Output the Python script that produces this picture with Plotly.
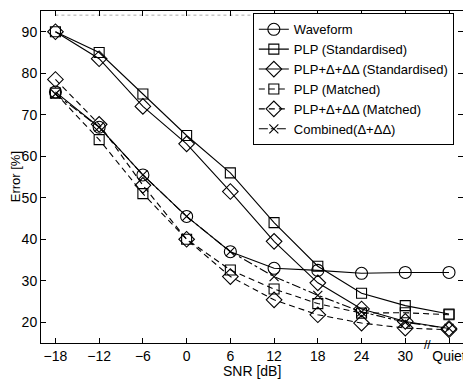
import plotly.graph_objects as go

snr = ["−18", "−12", "−6", "0", "6", "12", "18", "24", "30", "Quiet"]

waveform = [75.5, 67, 55.5, 45.5, 37, 33, 32.5, 31.8, 32, 32]
plp_std = [90, 85, 75, 65, 56, 44, 33.5, 27, 24, 22]
plpd_std = [90, 83.5, 72, 63, 51.5, 39.5, 29.5, 23.2, 20.2, 18.5]
plp_match = [75.2, 64, 51, 40, 32.6, 28, 24.5, 22.2, 22.3, 21.8]
plpd_match = [78.5, 67.7, 53, 40, 31, 25.4, 21.8, 19.8, 18.6, 18.2]
combined = [75, 67, 55.5, 45.5, 37, 31, 26.5, 22.5, 20, 18.5]
ceiling = [94] * len(snr)

# the page body has an 8px margin, so the figure is 8px smaller than the window
fig = go.Figure(layout=go.Layout(width=463, height=372))

fig.add_trace(go.Scatter(x=snr, y=ceiling, mode="lines", showlegend=False,
                         line=dict(color="#aaaaaa", width=1, dash="dot"), hoverinfo="skip"))


def serie(y, nome, simbolo, tracejado, tam):
    fig.add_trace(go.Scatter(
        x=snr, y=y, name=nome, mode="lines+markers",
        line=dict(color="black", width=1.1, dash=tracejado),
        marker=dict(symbol=simbolo, size=tam, color="black",
                    line=dict(color="black", width=1.1))))


serie(waveform, "Waveform", "circle-open", "solid", 12)
serie(plp_std, "PLP (Standardised)", "square-open", "solid", 10)
serie(plpd_std, "PLP+Δ+ΔΔ (Standardised)", "diamond-open", "solid", 12)
serie(plp_match, "PLP (Matched)", "square-open", "6px,4px", 10)
serie(plpd_match, "PLP+Δ+ΔΔ (Matched)", "diamond-open", "6px,4px", 12)
serie(combined, "Combined(Δ+ΔΔ)", "x-thin-open", "dashdot", 9)

eixo = dict(showline=True, linecolor="black", linewidth=1, mirror="ticks",
            ticks="inside", ticklen=5, tickcolor="black", showgrid=False,
            zeroline=False, automargin=False, tickfont=dict(size=14, color="black"))

fig.update_layout(
    plot_bgcolor="white", paper_bgcolor="white",
    font=dict(family="Liberation Sans, Arial, sans-serif", size=14, color="black"),
    margin=dict(l=33, r=8, t=3, b=37),
    xaxis=dict(eixo, type="category", categoryarray=snr, range=[-0.33, 9.32]),
    yaxis=dict(eixo, range=[15, 95], tickvals=[20, 30, 40, 50, 60, 70, 80, 90]),
    legend=dict(x=0.502, y=0.993, xanchor="left", yanchor="top",
                bgcolor="white", bordercolor="black", borderwidth=1,
                font=dict(size=13), itemwidth=30),
    showlegend=True,
)

fig.add_annotation(x=0.5, y=-0.084, xref="paper", yref="paper", text="SNR [dB]",
                   showarrow=False, yanchor="middle", font=dict(size=14))
fig.add_annotation(x=-0.061, y=0.5, xref="paper", yref="paper", text="Error [%]",
                   showarrow=False, textangle=-90, xanchor="center", font=dict(size=13))
fig.add_annotation(x=8.5, y=0, xref="x", yref="paper", text="//",
                   showarrow=False, font=dict(size=12), yanchor="middle", yshift=-2)

fig.write_html("out.html")
